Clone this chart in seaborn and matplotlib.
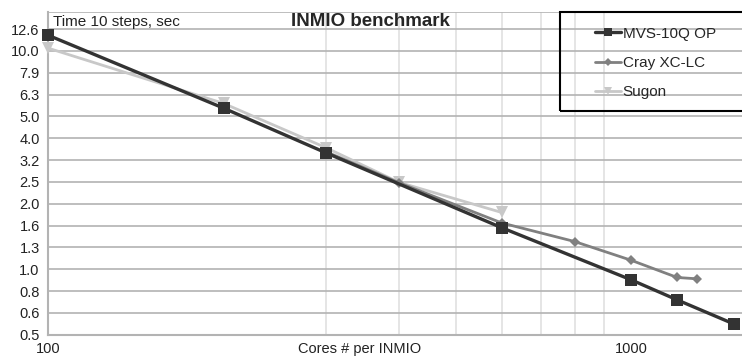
import numpy as np
import pandas as pd
import seaborn as sns
import matplotlib.pyplot as plt
from matplotlib.patches import Rectangle
from matplotlib.ticker import FixedLocator, NullLocator, NullFormatter

# values
mvs_cores = [100, 200, 300, 600, 1000, 1200, 1500]
mvs_time = [11.8, 5.47, 3.41, 1.55, 0.895, 0.724, 0.562]

cray_cores = [300, 400, 600, 800, 1000, 1200, 1300]
cray_time = [3.45, 2.49, 1.63, 1.34, 1.10, 0.917, 0.904]

sugon_cores = [100, 200, 300, 400, 600]
sugon_time = [10.3, 5.75, 3.6, 2.5, 1.82]

y_ticks = [0.5, 0.6, 0.8, 1.0, 1.3, 1.6, 2.0, 2.5, 3.2, 4.0, 5.0, 6.3, 7.9, 10.0, 12.6]
y_tick_pos = [10 ** (k / 10) for k in range(-3, 12)]
x_grid = [300, 400, 500, 600, 700, 800, 900]

sns.set_style("white")
plt.rcParams['font.family'] = ['Liberation Sans', 'DejaVu Sans']

fig = plt.figure(figsize=(7.42, 3.56), dpi=100)
ax = fig.add_axes([48 / 742, 21 / 356, 1 - 48 / 742, 323 / 356])

series = [
    ("MVS-10Q OP", mvs_cores, mvs_time, "#333333", "s", 8, 2.4),
    ("Cray XC-LC", cray_cores, cray_time, "#808080", "D", 5, 2.0),
    ("Sugon", sugon_cores, sugon_time, "#c8c8c8", "v", 8, 2.0),
]
# draw lighter series first so the dark line is on top
for name, xs, ys, col, mk, ms, lw in reversed(series):
    df = pd.DataFrame({"cores": xs, "time": ys})
    sns.lineplot(data=df, x="cores", y="time", ax=ax, color=col, marker=mk,
                 markersize=ms, linewidth=lw, markeredgewidth=0, label=name,
                 zorder=3, clip_on=False)

ax.set_xscale("log")
ax.set_yscale("log")
ax.set_xlim(100, 1550)
ax.set_ylim(0.5, 15.07)

ax.yaxis.set_major_locator(FixedLocator(y_tick_pos))
ax.set_yticklabels([f"{v:.1f}" for v in y_ticks])
ax.yaxis.set_minor_locator(NullLocator())
ax.xaxis.set_major_locator(FixedLocator([100, 1000]))
ax.set_xticklabels(["100", "1000"])
ax.xaxis.set_minor_locator(FixedLocator(x_grid))
ax.xaxis.set_minor_formatter(NullFormatter())

ax.grid(True, which="major", axis="y", color="#b3b3b3", linewidth=1.2, zorder=0)
ax.grid(True, which="minor", axis="x", color="#e0e0e0", linewidth=1.2, zorder=0)
ax.set_axisbelow(True)

for s in ["top", "right"]:
    ax.spines[s].set_visible(False)
for s in ["left", "bottom"]:
    ax.spines[s].set_color("#b3b3b3")
    ax.spines[s].set_linewidth(1.5)
ax.tick_params(axis="both", which="both", direction="out", length=4, width=1.2,
               color="#b3b3b3", labelsize=10.5, labelcolor="#222222", pad=2)
ax.tick_params(axis="x", which="major", pad=1)

ax.set_xlabel("Cores # per INMIO", fontsize=10.5, color="#222222")
ax.xaxis.set_label_coords((360 - 48) / 694, -0.022)
ax.xaxis.label.set_va("top")
ax.set_ylabel("")

ax.axhline(15.07, color="#b3b3b3", linewidth=1.2, zorder=1)
ax.text(0.007, 0.99, "Time 10 steps, sec", transform=ax.transAxes,
        fontsize=11, va="top", ha="left", color="#222222")
fig.text(370 / 742, 1 - 21 / 356, "INMIO benchmark", fontsize=13.5,
         fontweight="bold", ha="center", va="center")

# legend frame runs past the right edge of the picture, grid shows through
ax.add_patch(Rectangle((560 / 742, 1 - 111 / 356), 0.3, 99 / 356,
                       transform=fig.transFigure, facecolor="none",
                       edgecolor="black", linewidth=1.5, zorder=5,
                       clip_on=False))

handles, labels = ax.get_legend_handles_labels()
order = [labels.index(s[0]) for s in series]
leg = ax.legend([handles[i] for i in order], [labels[i] for i in order],
                loc="upper left", bbox_to_anchor=(590 / 742, 1 - 22 / 356),
                bbox_transform=fig.transFigure, frameon=False,
                fontsize=11, labelspacing=1.0, handlelength=1.7,
                handletextpad=0.15, borderpad=0.3, borderaxespad=0,
                markerscale=0.8)
leg.set_zorder(6)

fig.savefig("out.png", dpi=100)
